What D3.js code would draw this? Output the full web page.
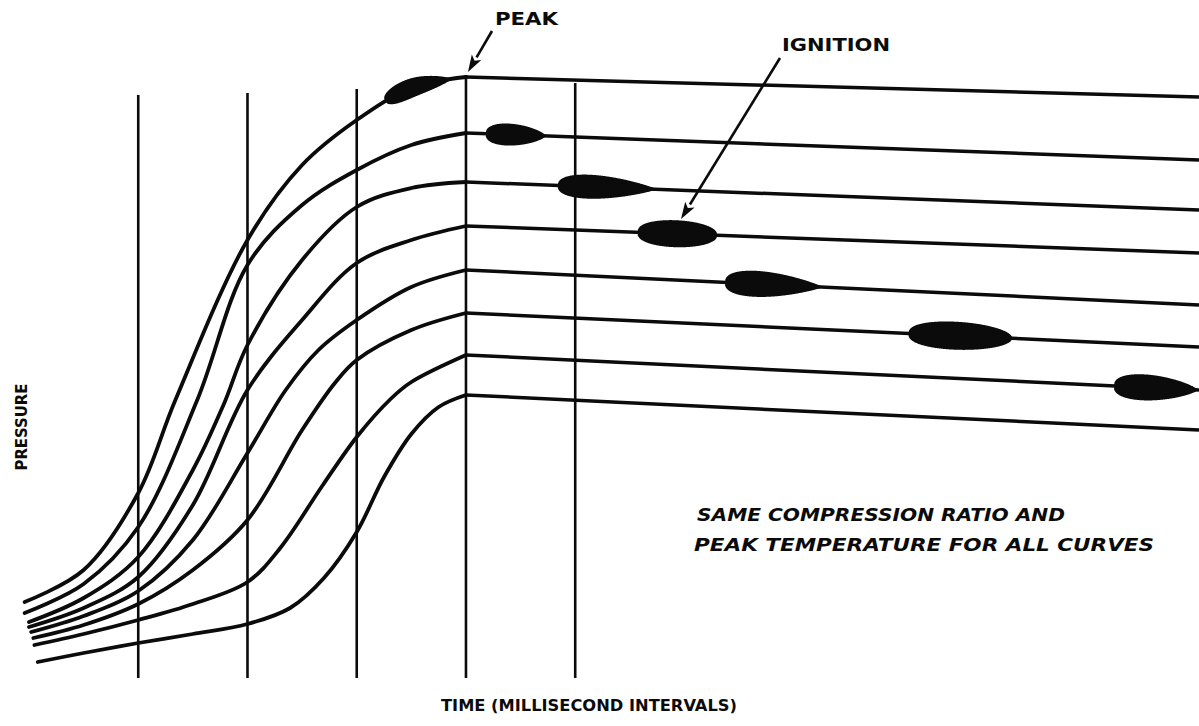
<!DOCTYPE html>
<html><head><meta charset="utf-8">
<script src="https://cdn.jsdelivr.net/npm/d3@7"></script>
<style>html,body{margin:0;padding:0;background:#fff;}svg{display:block;}</style>
</head><body>
<svg id="chart" width="1199" height="726"></svg>
<script>
// ---- DATA (time in millisecond intervals, pressure in arbitrary units) ----
const gridTimes = [1, 2, 3, 4, 5];
const gridTops  = [58.5, 58.7, 59.1, 60.5, 59.7];
const peakTime = 4;
const endTime = 10.71;

const rise1 = [[-0.04,7.8],[0.5,11.0],[1,18.7],[1.34,28],[2,44],[2.5,51.5],[3,56],[3.5,59.2],[4,60.3]];
const rise2 = [[-0.04,6.7],[0.5,9.6],[1,15.3],[1.54,28],[2,41.5],[2.5,47.5],[3,51],[3.5,53.5],[4,54.7]];
const rise3 = [[0,5.8],[0.5,8.2],[1,12.3],[1.5,21],[1.78,27.5],[2,33.5],[2.5,42],[3,47.3],[3.5,49.2],[4,49.8]];
const rise4 = [[0,5.3],[0.5,7.2],[1,10.3],[1.5,17.5],[2,29],[2.5,36],[3,41.7],[3.5,44],[4,45.4]];
const rise5 = [[0.02,4.8],[0.5,6.4],[1,8.9],[1.5,14],[2,22.7],[2.35,29],[2.65,33],[3,36],[3.5,39.3],[4,41]];
const rise6 = [[0.04,4.2],[0.5,5.5],[1,7.6],[1.5,11.0],[2,16],[2.5,25],[2.8,29.7],[3,32],[3.5,35],[4,36.7]];
const rise7 = [[0.05,3.5],[0.5,4.6],[1,6.0],[1.5,7.6],[2,9.8],[2.3,13.2],[2.69,19.5],[3,24.3],[3.31,28.1],[3.5,29.8],[4,32.5]];
const rise8 = [[0.08,1.8],[0.5,2.7],[1,3.7],[1.5,4.6],[2,5.6],[2.39,7.2],[2.7,10.2],[3,14.8],[3.25,20.3],[3.5,24.6],[3.75,27.3],[4,28.5]];
const risePoints = [rise1, rise2, rise3, rise4, rise5, rise6, rise7, rise8];

const endPressure = [58.3, 52, 47, 42.7, 37.5, 33.3, 29, 25];

const ignitionStart = [3.26, 4.18, 4.84, 5.57, 6.37, 8.05, 9.93, null];
const ignitionEnd   = [3.87, 4.73, 5.75, 6.30, 7.27, 9.00, 10.70, null];

const labelPeak = "PEAK";
const labelIgnition = "IGNITION";
const labelY = "PRESSURE";
const labelX = "TIME (MILLISECOND INTERVALS)";
const noteLines = ["SAME COMPRESSION RATIO AND", "PEAK TEMPERATURE FOR ALL CURVES"];

// ---- STYLE ----
const INK = "#0b0b0b";
const blobThickness = [19, 22, 24, 27, 26, 28, 26];
const blobTaper = [0.8, 0.7, 0.9, 0.45, 0.9, 0.5, 0.75];

// ---- DRAW ----
const svg = d3.select("#chart");
svg.append("rect").attr("width",1199).attr("height",726).attr("fill","#fff");

const x = d3.scaleLinear().domain([0, endTime]).range([29, 1199]);
const y = d3.scaleLinear().domain([0, 62]).range([680, 60]);

// vertical interval lines
svg.append("g").selectAll("line").data(gridTimes).join("line")
  .attr("x1", d => x(d)).attr("x2", d => x(d))
  .attr("y1", y(0.2)).attr("y2", (d,i) => y(gridTops[i]))
  .attr("stroke", INK).attr("stroke-width", 2.6);

const riseLine = d3.line().x(d => x(d[0])).y(d => y(d[1])).curve(d3.curveCatmullRom.alpha(0.5));
const tailLine = d3.line().x(d => x(d[0])).y(d => y(d[1]));

const gc = svg.append("g");
const risePaths = [], tailPaths = [];
risePoints.forEach((pts, i) => {
  const r = gc.append("path").attr("d", riseLine(pts))
    .attr("fill","none").attr("stroke",INK).attr("stroke-width",3.8).attr("stroke-linecap","round");
  const peakP = pts[pts.length-1][1];
  const t = gc.append("path").attr("d", tailLine([[peakTime, peakP],[endTime, endPressure[i]]]))
    .attr("fill","none").attr("stroke",INK).attr("stroke-width",3.5).attr("stroke-linecap","butt");
  risePaths.push(r.node()); tailPaths.push(t.node());
});

function samplePath(node){
  const L = node.getTotalLength(), out = [];
  for (let l = 0; l <= L; l += 0.5) { const p = node.getPointAtLength(l); out.push([p.x, p.y]); }
  return out;
}

// ignition blobs
const gb = svg.append("g");
ignitionStart.forEach((t0, i) => {
  if (t0 == null) return;
  const t1 = ignitionEnd[i];
  const node = t1 <= peakTime ? risePaths[i] : tailPaths[i];
  const x0 = x(t0), x1 = x(t1);
  const pts = samplePath(node).filter(p => p[0] >= x0 && p[0] <= x1);
  if (pts.length < 3) return;
  const a = 0.4, b = blobTaper[i];
  const umax = a/(a+b);
  const norm = Math.pow(umax,a)*Math.pow(1-umax,b);
  const half = blobThickness[i]/2;
  const top = [], bot = [];
  pts.forEach((p, k) => {
    const pa = pts[Math.max(0,k-2)], pb = pts[Math.min(pts.length-1,k+2)];
    let dx = pb[0]-pa[0], dy = pb[1]-pa[1]; const len = Math.hypot(dx,dy)||1;
    const nx = -dy/len, ny = dx/len;
    const u = (p[0]-x0)/(x1-x0);
    const w = half*Math.pow(Math.max(u,0),a)*Math.pow(Math.max(1-u,0),b)/norm;
    top.push([p[0]+nx*w, p[1]+ny*w]); bot.push([p[0]-nx*w, p[1]-ny*w]);
  });
  const poly = top.concat(bot.reverse());
  gb.append("path").attr("d", d3.line().curve(d3.curveLinearClosed)(poly)).attr("fill", INK);
});

// arrows
function arrow(xs, ys, xt, yt){
  const g = svg.append("g");
  const ang = Math.atan2(yt-ys, xt-xs), hl = 17, hw = 5.5;
  const bx = xt - Math.cos(ang)*hl, by = yt - Math.sin(ang)*hl;
  g.append("line").attr("x1",xs).attr("y1",ys).attr("x2",bx).attr("y2",by)
    .attr("stroke",INK).attr("stroke-width",2.6);
  const nx = -Math.sin(ang), ny = Math.cos(ang);
  g.append("path").attr("d", `M${xt},${yt}L${bx+nx*hw},${by+ny*hw}L${bx+Math.cos(ang)*4},${by+Math.sin(ang)*4}L${bx-nx*hw},${by-ny*hw}Z`).attr("fill",INK);
}
arrow(492, 31, x(peakTime)+2, y(risePoints[0][risePoints[0].length-1][1])-5);
arrow(780, 58, 681, 219);

// text
const font = "'DejaVu Sans', 'Liberation Sans', sans-serif";
function txt(s, xx, yy, size, len, opts={}){
  const t = svg.append("text").attr("x",xx).attr("y",yy).text(s)
    .attr("font-family",font).attr("font-weight","bold").attr("font-size",size)
    .attr("fill",INK).attr("textLength",len).attr("lengthAdjust","spacingAndGlyphs");
  if (opts.italic) t.attr("font-style","italic");
  if (opts.anchor) t.attr("text-anchor",opts.anchor);
  if (opts.transform) t.attr("transform",opts.transform);
  return t;
}
txt(labelPeak, 495, 25, 17, 63);
txt(labelIgnition, 782, 51, 17, 108);
txt(labelX, 441, 711, 16.5, 296);
txt(labelY, 0, 0, 16.5, 87, {anchor:"middle", transform:"translate(27,427) rotate(-90)"});
txt(noteLines[0], 697, 521, 18.5, 368, {italic:true});
txt(noteLines[1], 694, 551, 18.5, 460, {italic:true});
</script>
</body></html>
